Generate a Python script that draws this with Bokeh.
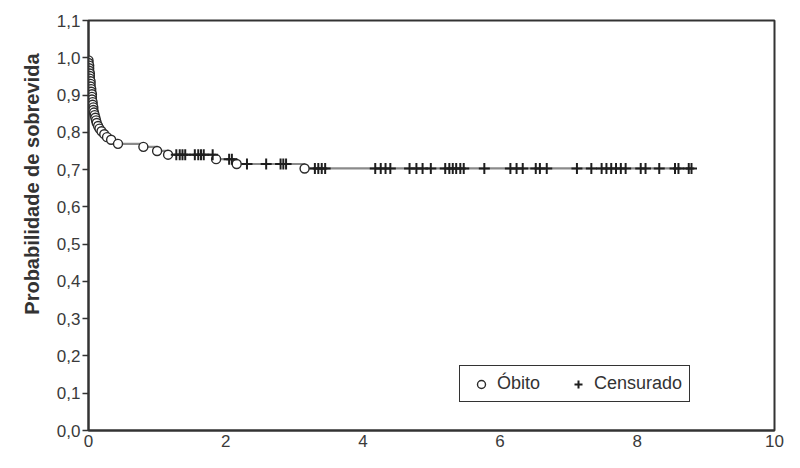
import numpy as np
from bokeh.plotting import figure
from bokeh.models import FixedTicker, Legend, LegendItem, Title, Range1d
from bokeh.embed import file_html
from bokeh.resources import INLINE

# Deaths (Óbito): time (years) and survival probability after the event
death_t = [0.00, 0.00, 0.01, 0.01, 0.01, 0.02, 0.02, 0.02, 0.03, 0.03, 0.03, 0.04, 0.04,
           0.05, 0.05, 0.05, 0.06, 0.06, 0.07, 0.07, 0.08, 0.09, 0.10, 0.11, 0.12,
           0.14, 0.16, 0.19, 0.23, 0.27, 0.33, 0.43, 0.80, 1.00, 1.16, 1.86, 2.16, 3.15]
death_s = [0.993, 0.986, 0.979, 0.972, 0.965, 0.958, 0.951, 0.944, 0.937, 0.930, 0.923, 0.916, 0.909,
           0.902, 0.895, 0.888, 0.881, 0.874, 0.867, 0.860, 0.853, 0.846, 0.839, 0.832, 0.825,
           0.817, 0.810, 0.803, 0.795, 0.787, 0.780, 0.769, 0.761, 0.750, 0.740, 0.728, 0.715, 0.703]

# Censored (Censurado) times
censor_t = [1.28, 1.33, 1.37, 1.41, 1.55, 1.60, 1.64, 1.68, 1.81, 2.05, 2.09, 2.31, 2.59,
            2.80, 2.84, 2.88, 3.30, 3.35, 3.40, 3.45, 4.18, 4.26, 4.33, 4.40, 4.68, 4.78,
            4.87, 4.99, 5.20, 5.26, 5.31, 5.36, 5.42, 5.47, 5.77, 6.15, 6.24, 6.33, 6.52,
            6.58, 6.68, 7.12, 7.33, 7.48, 7.55, 7.62, 7.69, 7.76, 7.83, 8.05, 8.12, 8.32,
            8.55, 8.60, 8.75, 8.79]

x_ticks = [0, 2, 4, 6, 8, 10]
x_tick_labels = ["0", "2", "4", "6", "8", "10"]
y_ticks = [0.0, 0.1, 0.2, 0.3, 0.4, 0.5, 0.6, 0.7, 0.8, 0.9, 1.0, 1.1]
y_tick_labels = ["0,0", "0,1", "0,2", "0,3", "0,4", "0,5", "0,6", "0,7", "0,8", "0,9", "1,0", "1,1"]
y_title = "Probabilidade de sobrevida"

# Kaplan-Meier step function from the death events
step_x = [0.0] + death_t + [censor_t[-1]]
step_y = [1.0] + death_s + [death_s[-1]]
idx = np.searchsorted(np.array(death_t), np.array(censor_t), side="right") - 1
censor_s = [death_s[i] if i >= 0 else 1.0 for i in idx]

FONT = "Liberation Sans"
DARK = "#333333"

p = figure(width=784, height=452, output_backend="svg", toolbar_location=None,
           x_range=Range1d(0, 10), y_range=Range1d(0, 1.1),
           min_border_left=88, min_border_right=10, min_border_top=20, min_border_bottom=22,
           background_fill_color="white", border_fill_color="white")
p.xgrid.visible = False
p.ygrid.visible = False
p.outline_line_color = DARK
p.outline_line_width = 2
p.outline_line_alpha = 1

p.step(x=step_x, y=step_y, mode="after", line_color="#8a8a8a", line_width=2.2)
r_d = p.scatter(x=death_t, y=death_s, marker="circle", size=9, fill_color="white",
                line_color="#2a2a2a", line_width=1.4)
r_c = p.scatter(x=censor_t, y=censor_s, marker="cross", size=11, line_color="#1e1e1e",
                line_width=2)

p.xaxis.ticker = FixedTicker(ticks=x_ticks)
p.xaxis.major_label_overrides = {t: l for t, l in zip(x_ticks, x_tick_labels)}
p.yaxis.ticker = FixedTicker(ticks=y_ticks)
p.yaxis.major_label_overrides = {t: l for t, l in zip(y_ticks, y_tick_labels)}

for ax in (p.xaxis[0], p.yaxis[0]):
    ax.axis_line_color = DARK
    ax.axis_line_width = 2
    ax.minor_tick_line_color = None
    ax.major_label_text_font = FONT
    ax.major_label_text_font_size = "17px"
    ax.major_label_text_color = "#3a3a3a"
    ax.major_tick_line_color = DARK
    ax.major_tick_line_width = 1.5

p.xaxis.major_tick_out = 0
p.xaxis.major_tick_in = 0
p.xaxis.major_label_standoff = 4
p.yaxis.major_tick_out = 6
p.yaxis.major_tick_in = 0
p.yaxis.major_label_standoff = 2

ytitle = Title(text=y_title, align="right", offset=33, standoff=22,
               text_font=FONT, text_font_style="bold", text_font_size="20px",
               text_color=DARK)
p.add_layout(ytitle, "left")

legend = Legend(items=[LegendItem(label="Óbito", renderers=[r_d]),
                       LegendItem(label="Censurado", renderers=[r_c])],
                orientation="horizontal", location=(371, 28),
                border_line_color=DARK, border_line_width=1.5, border_line_alpha=1,
                label_text_font=FONT, label_text_font_size="18px", label_text_color=DARK,
                glyph_width=28, glyph_height=20, padding=7, spacing=24,
                label_standoff=2, margin=0, background_fill_alpha=1)
p.add_layout(legend, "center")

open("out.html", "w").write(file_html(p, INLINE))
